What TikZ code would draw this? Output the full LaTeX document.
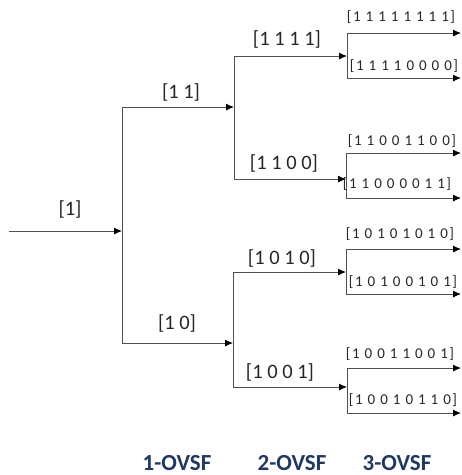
\documentclass[tikz,border=0pt]{standalone}
\usepackage{fontspec}
\setmainfont{Carlito}
\usetikzlibrary{arrows.meta}
\definecolor{linegray}{RGB}{80,80,80}
\definecolor{navy}{RGB}{31,56,100}
\newcommand\bg{\hspace{5pt}}
\newcommand\bb{\kern1.5pt}
\tikzset{
  conn/.style={draw=linegray, line width=0.9pt},
  arr/.style={conn, -{Latex[length=8pt,width=7pt,color=black]}},
  lab/.style={font=\fontsize{20.5}{22}\selectfont, inner sep=0pt, text=black!85},
  labs/.style={font=\fontsize{15}{16}\selectfont, inner sep=0pt, text=black!85},
  lvl/.style={font=\fontsize{23}{24}\selectfont\bfseries, inner sep=0pt, text=navy, anchor=base},
  pt/.style={coordinate}
}
\begin{document}
\begin{tikzpicture}[x=1pt,y=-1pt]
\useasboundingbox (0,0) rectangle (462,475);
% level 0
\node[pt] (s0) at (9,231) {};
\node[pt] (j0) at (122,231) {};
\node[pt] (j0t) at (122,107) {};
\node[pt] (j0b) at (122,343) {};
% level 1
\node[pt] (j1) at (234,107) {};
\node[pt] (j1t) at (234,56) {};
\node[pt] (j1b) at (234,179) {};
\node[pt] (j2) at (233,343) {};
\node[pt] (j2t) at (233,272) {};
\node[pt] (j2b) at (233,387) {};
% level 2 targets
\node[pt] (k1) at (347,56) {};
\node[pt] (k1t) at (347,33) {};
\node[pt] (k1b) at (347,78) {};
\node[pt] (k2) at (346,179) {};
\node[pt] (k2t) at (346,153) {};
\node[pt] (k2b) at (346,198) {};
\node[pt] (k3) at (346,272) {};
\node[pt] (k3t) at (346,249) {};
\node[pt] (k3b) at (346,294) {};
\node[pt] (k4) at (347,387) {};
\node[pt] (k4t) at (347,368) {};
\node[pt] (k4b) at (347,413) {};
% leaves
\node[pt] (e1) at (461,33) {};
\node[pt] (e2) at (461,78) {};
\node[pt] (e3) at (461,153) {};
\node[pt] (e4) at (461,198) {};
\node[pt] (e5) at (461,249) {};
\node[pt] (e6) at (461,294) {};
\node[pt] (e7) at (461,368) {};
\node[pt] (e8) at (461,413) {};

% connectors
\draw[arr] (s0) -- (j0);
\draw[conn] (j0t) -- (j0b);
\draw[arr] (j0t) -- (j1);
\draw[arr] (j0b) -- (j2);
\draw[conn] (j1t) -- (j1b);
\draw[conn] (j2t) -- (j2b);
\draw[arr] (j1t) -- (k1);
\draw[arr] (j1b) -- (k2);
\draw[arr] (j2t) -- (k3);
\draw[arr] (j2b) -- (k4);
\draw[conn] (k1t) -- (k1b);
\draw[conn] (k2t) -- (k2b);
\draw[conn] (k3t) -- (k3b);
\draw[conn] (k4t) -- (k4b);
\draw[arr] (k1t) -- (e1);
\draw[arr] (k1b) -- (e2);
\draw[arr] (k2t) -- (e3);
\draw[arr] (k2b) -- (e4);
\draw[arr] (k3t) -- (e5);
\draw[arr] (k3b) -- (e6);
\draw[arr] (k4t) -- (e7);
\draw[arr] (k4b) -- (e8);

% labels
\node[lab] (l0) at (70,209) {[1]};
\node[lab] (l11) at (181,92) {[1 1]};
\node[lab] (l10) at (177,323) {[1 0]};
\node[lab] (l1111) at (287,39) {[1 1 1 1]};
\node[lab] (l1100) at (284,163) {[1 1 0 0]};
\node[lab] (l1010) at (282,258) {[1 0 1 0]};
\node[lab] (l1001) at (280,372) {[1 0 0 1]};
\node[labs] (m1) at (401,17) {[\bb1\bg1\bg1\bg1\bg1\bg1\bg1\bg1\bb]};
\node[labs] (m2) at (404,66) {[\bb1\bg1\bg1\bg1\bg0\bg0\bg0\bg0\bb]};
\node[labs] (m3) at (402,141) {[\bb1\bg1\bg0\bg0\bg1\bg1\bg0\bg0\bb]};
\node[labs] (m4) at (397,184) {[\bb1\bg1\bg0\bg0\bg0\bg0\bg1\bg1\bb]};
\node[labs] (m5) at (400,234) {[\bb1\bg0\bg1\bg0\bg1\bg0\bg1\bg0\bb]};
\node[labs] (m6) at (403,282) {[\bb1\bg0\bg1\bg0\bg0\bg1\bg0\bg1\bb]};
\node[labs] (m7) at (400,354) {[\bb1\bg0\bg0\bg1\bg1\bg0\bg0\bg1\bb]};
\node[labs] (m8) at (403,400) {[\bb1\bg0\bg0\bg1\bg0\bg1\bg1\bg0\bb]};
\node[lvl] (o1) at (177,470) {1-OVSF};
\node[lvl] (o2) at (292,470) {2-OVSF};
\node[lvl] (o3) at (397,470) {3-OVSF};
\end{tikzpicture}
\end{document}
